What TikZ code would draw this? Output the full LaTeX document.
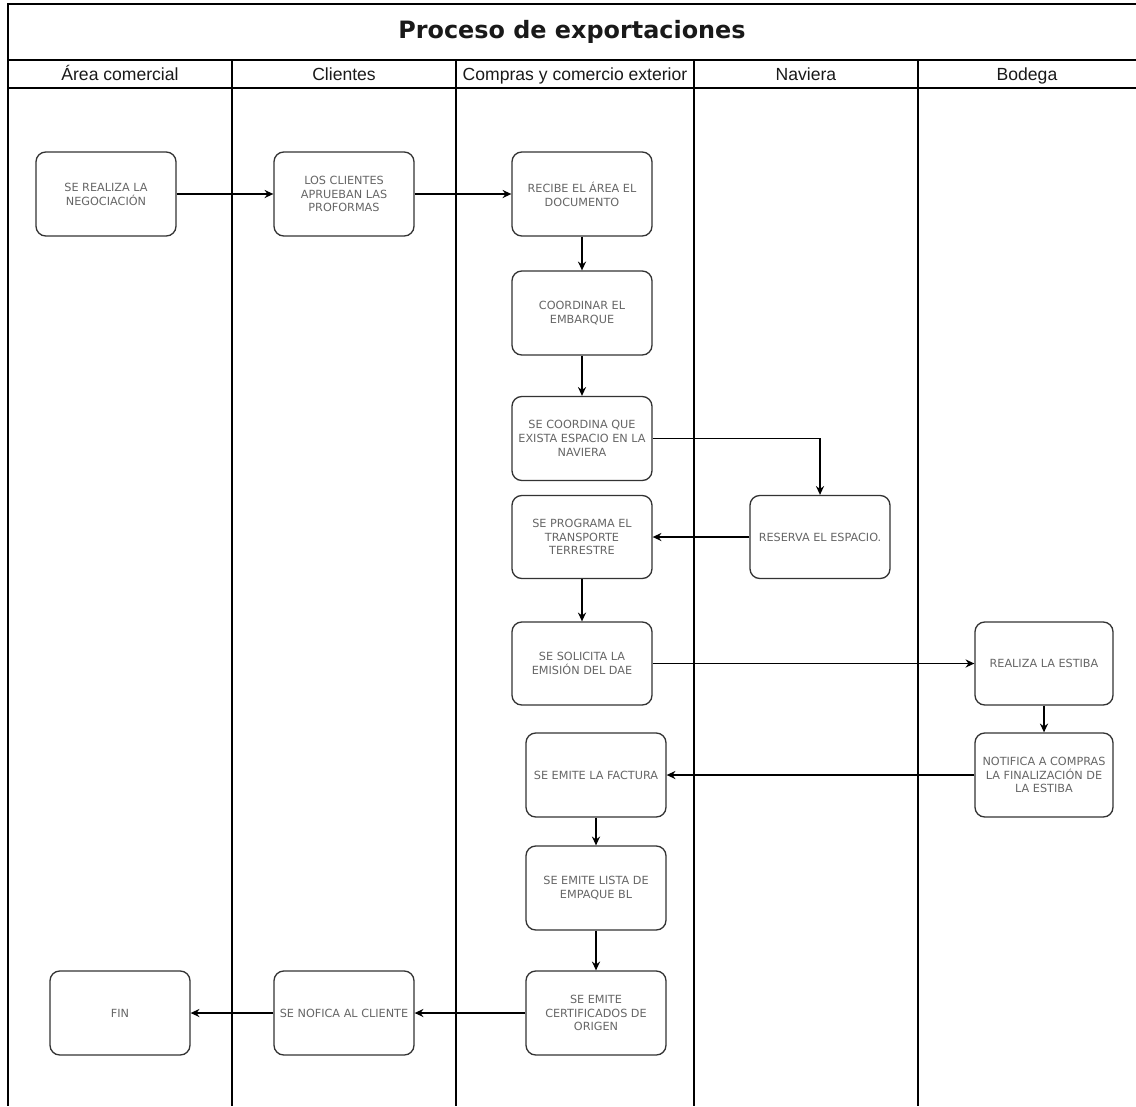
\documentclass[tikz,border=0pt]{standalone}
\usepackage{fontspec}
\setmainfont{Liberation Sans}
\newfontfamily\boxfont{DejaVu Sans}
\newfontfamily\titlefont{DejaVu Sans}
\usepackage{tikz}
\usetikzlibrary{arrows,arrows.meta,positioning}
\usepackage{xcolor}
\definecolor{boxline}{RGB}{51,51,51}
\definecolor{boxtext}{RGB}{102,102,102}
\definecolor{headtext}{RGB}{25,25,25}
\tikzstyle{process} = [draw=boxline, line width=0.75pt, rounded corners=5.5pt, fill=white, minimum width=2.8cm, minimum height=1.68cm, inner sep=0pt, align=center, text=boxtext, font=\boxfont\fontsize{6.4}{7.9}\selectfont]
\tikzstyle{flow} = [line width=0.8pt, ->, >={Stealth[length=5pt,width=4.6pt]}, color=black]
\tikzstyle{frame} = [line width=0.75pt, color=black]
\tikzstyle{lanetitle} = [font=\fontsize{10}{12}\selectfont, text=headtext, text height=7.2pt, text depth=2pt, inner sep=0pt]

\begin{document}
\begin{tikzpicture}[x=0.02cm, y=-0.02cm]
\useasboundingbox (0,0) rectangle (1136,1106);

% Pool with lanes
\draw[frame] (1136,4) -- (8,4) -- (8,1106);
\draw[frame] (8,60) -- (1136,60);
\draw[frame] (8,88) -- (1136,88);
\foreach \x in {232,456,694,918}
  \draw[frame] (\x,60) -- (\x,1106);

\node[text=headtext] (title) at (572,32) {\titlefont\bfseries\fontsize{13.6}{16}\selectfont Proceso de exportaciones};
\node[lanetitle] (hcom) at (120,75.5) {Área comercial};
\node[lanetitle] (hcli) at (344,75.5) {Clientes};
\node[lanetitle] (hcce) at (575,75.5) {Compras y comercio exterior};
\node[lanetitle] (hnav) at (806,75.5) {Naviera};
\node[lanetitle] (hbod) at (1027,75.5) {Bodega};

% Activities
\node[process] (neg) at (106,194) {SE REALIZA LA\\NEGOCIACIÓN};
\node[process] (apr) at (344,194) {LOS CLIENTES\\APRUEBAN LAS\\PROFORMAS};
\node[process] (rec) at (582,194) {RECIBE EL ÁREA EL\\DOCUMENTO};
\node[process] (emb) at (582,313) {COORDINAR EL\\EMBARQUE};
\node[process] (esp) at (582,438.5) {SE COORDINA QUE\\EXISTA ESPACIO EN LA\\NAVIERA};
\node[process, minimum height=1.66cm] (trn) at (582,537) {SE PROGRAMA EL\\TRANSPORTE\\TERRESTRE};
\node[process, minimum height=1.66cm] (res) at (820,537) {RESERVA EL ESPACIO.};
\node[process, minimum height=1.66cm] (dae) at (582,663.5) {SE SOLICITA LA\\EMISIÓN DEL DAE};
\node[process, minimum width=2.76cm, minimum height=1.66cm] (est) at (1044,663.5) {REALIZA LA ESTIBA};
\node[process, minimum width=2.76cm] (ntf) at (1044,775) {NOTIFICA A COMPRAS\\LA FINALIZACIÓN DE\\LA ESTIBA};
\node[process] (fac) at (596,775) {SE EMITE LA FACTURA};
\node[process] (lis) at (596,888) {SE EMITE LISTA DE\\EMPAQUE BL};
\node[process] (cer) at (596,1013) {SE EMITE\\CERTIFICADOS DE\\ORIGEN};
\node[process] (avi) at (344,1013) {SE NOFICA AL CLIENTE};
\node[process] (fin) at (120,1013) {FIN};

% Flow
\draw[flow] (neg) -- (apr);
\draw[flow] (apr) -- (rec);
\draw[flow] (rec) -- (emb);
\draw[flow] (emb) -- (esp);
\draw[flow] (esp.east) -| (res.north);
\draw[flow] (res) -- (trn);
\draw[flow] (trn) -- (dae);
\draw[flow] (dae) -- (est);
\draw[flow] (est) -- (ntf);
\draw[flow] (ntf) -- (fac);
\draw[flow] (fac) -- (lis);
\draw[flow] (lis) -- (cer);
\draw[flow] (cer) -- (avi);
\draw[flow] (avi) -- (fin);
\end{tikzpicture}
\end{document}
